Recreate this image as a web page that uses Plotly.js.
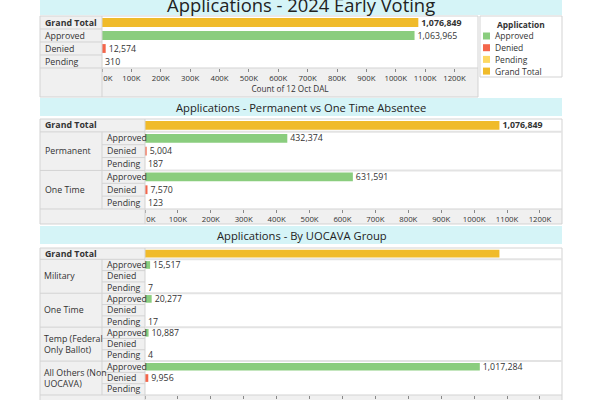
<!DOCTYPE html>
<html>
<head>
<meta charset="utf-8">
<script src="https://cdn.plot.ly/plotly-3.0.1.min.js"></script>
<style>html,body{margin:0;padding:0;background:#fff}#chart{width:600px;height:400px}</style>
</head>
<body>
<div id="chart"></div>
<script>
// ---------------- data ----------------
const chartTitle = 'Applications - 2024 Early Voting';
const absenteeTitle = 'Applications - Permanent vs One Time Absentee';
const uocavaTitle = 'Applications - By UOCAVA Group';
const axisTitle = 'Count of 12 Oct DAL';
const legendTitle = 'Application';

const grandTotalLabel = 'Grand Total';
const statuses = ['Approved', 'Denied', 'Pending'];
const legendLabels = ['Approved', 'Denied', 'Pending', 'Grand Total'];

// Panel 1 - overall
const overallValues = [1063965, 12574, 310];      // Approved, Denied, Pending
const overallGrandTotal = 1076849;

// Panel 2 - Permanent vs One Time
const absenteeGroups = ['Permanent', 'One Time'];
const absenteeApproved = [432374, 631591];
const absenteeDenied = [5004, 7570];
const absenteePending = [187, 123];
const absenteeGrandTotal = 1076849;

// Panel 3 - UOCAVA group
const uocavaGroups = ['Military', 'One Time', 'Temp (Federal<br>Only Ballot)', 'All Others (Non<br>UOCAVA)'];
const uocavaApproved = [15517, 20277, 10887, 1017284];
const uocavaDenied = [null, null, null, 9956];
const uocavaPending = [7, 17, 4, null];
const uocavaGrandTotal = 1076849;

const tickValues = [0, 100000, 200000, 300000, 400000, 500000, 600000, 700000, 800000, 900000, 1000000, 1100000, 1200000];
const tickLabels = ['0K', '100K', '200K', '300K', '400K', '500K', '600K', '700K', '800K', '900K', '1000K', '1100K', '1200K'];

// ---------------- style ----------------
const FONT = 'Open Sans, Noto Sans, sans-serif';
const TXT = '#333333';
const LBL = 8.8;
const COLORS = { 'Approved': '#8acd7e', 'Denied': '#f4664b', 'Pending': '#fdd862', 'Grand Total': '#f0bb2a' };
const BAND = '#d5f4f7';
const CELL = '#f0f0f0';
const LINE = '#d3d3d3';
const SEP = '#e3e3e3';
const W = 600, H = 400;
const X = p => p / W;
const Y = p => 1 - p / H;

const shapes = [];
const annotations = [];
function rect(x0, y0, x1, y1, fill, line) {
  shapes.push({ type: 'rect', xref: 'paper', yref: 'paper', x0: X(x0), x1: X(x1), y0: Y(y0), y1: Y(y1),
    fillcolor: fill || 'rgba(0,0,0,0)', line: { width: line ? 1 : 0, color: line || 'rgba(0,0,0,0)' }, layer: 'below' });
}
function hline(x0, x1, yref, yv, color, width) {
  shapes.push({ type: 'line', xref: 'paper', yref: yref, x0: X(x0), x1: X(x1), y0: yv, y1: yv,
    line: { color: color || LINE, width: width || 1 }, layer: 'above' });
}
function vline(xp, yref, y0, y1, color) {
  shapes.push({ type: 'line', xref: 'paper', yref: yref, x0: X(xp), x1: X(xp), y0: y0, y1: y1,
    line: { color: color || LINE, width: 1 }, layer: 'above' });
}
function label(text, xp, yref, yv, opts) {
  annotations.push(Object.assign({ text: text, xref: 'paper', yref: yref, x: X(xp), y: yv, xanchor: 'left', yanchor: 'middle',
    showarrow: false, align: 'left', font: { family: FONT, size: LBL, color: TXT } }, opts || {}));
}
function bars(xa, ya, ids, vals, color, bold) {
  const y = [], x = [];
  ids.forEach((id, i) => { if (vals[i] !== null && vals[i] !== undefined) { y.push(id); x.push(vals[i]); } });
  return { type: 'bar', orientation: 'h', xaxis: xa, yaxis: ya, y: y, x: x, width: 0.68,
    marker: { color: color, line: { width: 0 } }, showlegend: false, hoverinfo: 'skip',
    texttemplate: bold ? '<b>%{x:,}</b>' : '%{x:,}', textposition: 'outside', constraintext: 'none',
    cliponaxis: false, textfont: { family: FONT, size: LBL, color: TXT } };
}

// ---------------- panel 1 ----------------
const p1Ids = [grandTotalLabel].concat(statuses);
const traces = [];
traces.push(bars('x', 'y', [grandTotalLabel], [overallGrandTotal], COLORS['Grand Total'], true));
statuses.forEach((s, i) => traces.push(bars('x', 'y', [s], [overallValues[i]], COLORS[s], false)));

rect(40, 0, 562, 15, BAND);
rect(40, 16, 102, 68, CELL);
rect(40, 68, 478, 97, CELL);
rect(40, 16, 478, 97, null, LINE);
vline(102, 'paper', Y(16), Y(97));
hline(40, 478, 'paper', Y(68));
for (let i = 1; i < p1Ids.length; i++) hline(40, 102, 'y', i - 0.5);
p1Ids.forEach((id, i) => label(i === 0 ? '<b>' + id + '</b>' : id, 43, 'y', i));

// ---------------- panel 2 ----------------
const p2Ids = [grandTotalLabel];
absenteeGroups.forEach(g => statuses.forEach(s => p2Ids.push(g + '|' + s)));
const p2Vals = { 'Approved': absenteeApproved, 'Denied': absenteeDenied, 'Pending': absenteePending };
traces.push(bars('x2', 'y2', [grandTotalLabel], [absenteeGrandTotal], COLORS['Grand Total'], true));
statuses.forEach(s => traces.push(bars('x2', 'y2', absenteeGroups.map(g => g + '|' + s), p2Vals[s], COLORS[s], false)));

rect(40, 98, 562, 116, BAND);
rect(40, 119, 145, 209, CELL);
rect(40, 209, 562, 224, CELL);
rect(40, 119, 562, 224, null, LINE);
vline(145, 'paper', Y(119), Y(224));
vline(102, 'y2', 0.5, p2Ids.length - 0.5);
hline(40, 562, 'paper', Y(209));
label('<b>' + grandTotalLabel + '</b>', 43, 'y2', 0);
absenteeGroups.forEach((g, gi) => {
  const start = 1 + gi * statuses.length;
  hline(40, 145, 'y2', start - 0.5);
  hline(145, 562, 'y2', start - 0.5, SEP, 2);
  for (let k = 1; k < statuses.length; k++) hline(102, 145, 'y2', start + k - 0.5);
  label(g, 43, 'y2', start + 1);
  statuses.forEach((s, k) => label(s, 105, 'y2', start + k));
});

// ---------------- panel 3 ----------------
const p3Ids = [grandTotalLabel];
uocavaGroups.forEach(g => statuses.forEach(s => p3Ids.push(g + '|' + s)));
const p3Vals = { 'Approved': uocavaApproved, 'Denied': uocavaDenied, 'Pending': uocavaPending };
const gt3 = bars('x3', 'y3', [grandTotalLabel], [uocavaGrandTotal], COLORS['Grand Total'], true);
gt3.texttemplate = ''; gt3.textposition = 'none';
traces.push(gt3);
statuses.forEach(s => traces.push(bars('x3', 'y3', uocavaGroups.map(g => g + '|' + s), p3Vals[s], COLORS[s], false)));

rect(40, 226, 562, 244, BAND);
rect(40, 248, 145, 395, CELL);
rect(40, 395, 562, 402, CELL);
rect(40, 248, 562, 402, null, LINE);
vline(145, 'paper', Y(248), Y(402));
vline(102, 'y3', 0.5, p3Ids.length - 0.5);
hline(40, 562, 'paper', Y(395));
label('<b>' + grandTotalLabel + '</b>', 43, 'y3', 0);
uocavaGroups.forEach((g, gi) => {
  const start = 1 + gi * statuses.length;
  hline(40, 145, 'y3', start - 0.5);
  hline(145, 562, 'y3', start - 0.5, SEP, 2);
  for (let k = 1; k < statuses.length; k++) hline(102, 145, 'y3', start + k - 0.5);
  label(g, 42, 'y3', start + 1);
  statuses.forEach((s, k) => label(s, 105, 'y3', start + k));
});

// ---------------- titles ----------------
annotations.push({ text: chartTitle, xref: 'paper', yref: 'paper', x: X(301), y: Y(5), xanchor: 'center', yanchor: 'middle',
  showarrow: false, font: { family: FONT, size: 18.4, color: '#222' } });
annotations.push({ text: absenteeTitle, xref: 'paper', yref: 'paper', x: X(301), y: Y(107), xanchor: 'center', yanchor: 'middle',
  showarrow: false, font: { family: FONT, size: 11.2, color: '#222' } });
annotations.push({ text: uocavaTitle, xref: 'paper', yref: 'paper', x: X(302), y: Y(235), xanchor: 'center', yanchor: 'middle',
  showarrow: false, font: { family: FONT, size: 11.2, color: '#222' } });

// ---------------- legend (built from categories) ----------------
rect(480, 16, 562, 77, '#ffffff', LINE);
annotations.push({ text: '<b>' + legendTitle + '</b>', xref: 'paper', yref: 'paper', x: X(521), y: Y(24), xanchor: 'center', yanchor: 'middle',
  showarrow: false, font: { family: FONT, size: 8.4, color: TXT } });
legendLabels.forEach((name, i) => {
  const cy = 36 + i * 11.7;
  shapes.push({ type: 'rect', xref: 'paper', yref: 'paper', x0: X(483), x1: X(490), y0: Y(cy - 3.5), y1: Y(cy + 3.5),
    fillcolor: COLORS[name], line: { width: 0 }, layer: 'above' });
  annotations.push({ text: name, xref: 'paper', yref: 'paper', x: X(493), y: Y(cy), xanchor: 'left', yanchor: 'middle',
    showarrow: false, font: { family: FONT, size: 8.5, color: TXT } });
});

// ---------------- axes ----------------
const tickText = tickLabels.map((t, i) => i === 0 ? '\u2003\u2002' + t : t);
function xAxis(domain, anchor, maxV, title, showLabels) {
  return { domain: domain, anchor: anchor, range: [0, maxV], tickvals: tickValues, ticktext: tickText,
    ticks: 'outside', ticklen: 3, tickwidth: 1, tickcolor: '#888', showgrid: false, zeroline: false, showline: false,
    showticklabels: showLabels, tickfont: { family: FONT, size: 7.8, color: TXT }, fixedrange: true,
    title: title ? { text: title, font: { family: FONT, size: 8.2, color: TXT }, standoff: 3 } : { text: '' } };
}
function yAxis(domain, anchor, ids) {
  return { domain: domain, anchor: anchor, type: 'category', categoryorder: 'array', categoryarray: ids,
    range: [ids.length - 0.5, -0.5], showticklabels: false, showgrid: false, zeroline: false, showline: false,
    ticks: '', fixedrange: true };
}

const layout = {
  width: W, height: H, margin: { l: 0, r: 0, t: 0, b: 0 },
  paper_bgcolor: '#ffffff', plot_bgcolor: 'rgba(0,0,0,0)',
  barmode: 'overlay', showlegend: false, font: { family: FONT, color: TXT },
  xaxis: xAxis([X(102), X(478)], 'y', 1280000, axisTitle, true),
  yaxis: yAxis([Y(68), Y(16)], 'x', p1Ids),
  xaxis2: xAxis([X(145), X(562)], 'y2', 1267000, null, true),
  yaxis2: yAxis([Y(209), Y(119)], 'x2', p2Ids),
  xaxis3: xAxis([X(145), X(562)], 'y3', 1267000, null, false),
  yaxis3: yAxis([Y(395), Y(248)], 'x3', p3Ids),
  shapes: shapes, annotations: annotations
};

Plotly.newPlot('chart', traces, layout, { staticPlot: true, displayModeBar: false });
</script>
</body>
</html>
